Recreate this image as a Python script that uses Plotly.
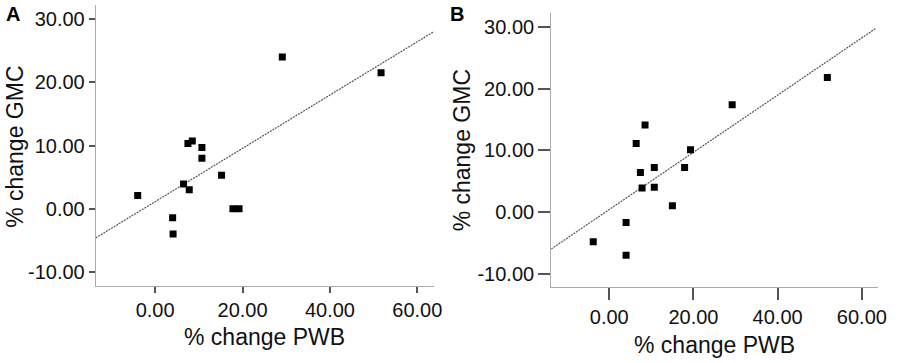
import plotly.graph_objects as go

# Panel A data
pwb_a = [-4.0, 4.0, 4.1, 6.5, 7.8, 7.5, 8.5, 10.7, 10.7, 15.2, 17.8, 19.2, 29.1, 51.7]
gmc_a = [2.1, -1.4, -4.0, 3.9, 3.0, 10.3, 10.7, 9.7, 8.0, 5.3, 0.0, 0.0, 24.0, 21.5]
fit_x_a = [-13.6, 63.8]
fit_y_a = [-4.6, 28.0]

# Panel B data
pwb_b = [-3.8, 4.0, 4.0, 6.4, 7.4, 8.5, 7.8, 10.7, 10.7, 15.0, 17.9, 19.3, 29.2, 51.8]
gmc_b = [-4.8, -1.7, -7.0, 11.1, 6.4, 14.1, 3.9, 7.2, 4.0, 1.0, 7.2, 10.1, 17.4, 21.8]
fit_x_b = [-13.8, 63.4]
fit_y_b = [-6.0, 29.8]

x_ticks = [0, 20, 40, 60]
x_tick_labels = ["0.00", "20.00", "40.00", "60.00"]
y_ticks = [-10, 0, 10, 20, 30]
y_tick_labels = ["-10.00", "0.00", "10.00", "20.00", "30.00"]

FONT = "Liberation Sans, Arial, sans-serif"
W, H = 902, 363

def px(x):
    return x / W

def py(y):
    return 1 - y / H

fig = go.Figure()

for xs, ys, fx, fy, xa, ya in [
    (pwb_a, gmc_a, fit_x_a, fit_y_a, "x", "y"),
    (pwb_b, gmc_b, fit_x_b, fit_y_b, "x2", "y2"),
]:
    fig.add_trace(go.Scatter(x=fx, y=fy, mode="lines", xaxis=xa, yaxis=ya,
                             line=dict(color="#555555", width=1.2, dash="2px,1px"),
                             showlegend=False, hoverinfo="skip"))
    fig.add_trace(go.Scatter(x=xs, y=ys, mode="markers", xaxis=xa, yaxis=ya,
                             marker=dict(symbol="square", size=7, color="#000000"),
                             showlegend=False))

common_x = dict(tickvals=x_ticks, ticktext=x_tick_labels, showline=True, linecolor="#aaaaaa",
                linewidth=1, ticks="outside", tickcolor="#555555", tickwidth=1.5,
                showgrid=False, zeroline=False, tickfont=dict(family=FONT, size=20, color="#111111"))
common_y = dict(tickvals=y_ticks, ticktext=y_tick_labels, showline=True, linecolor="#aaaaaa",
                linewidth=1, ticks="outside", tickcolor="#555555", tickwidth=1.5,
                showgrid=False, zeroline=False, tickfont=dict(family=FONT, size=20, color="#111111"))

fig.update_layout(
    width=W, height=H,
    margin=dict(l=0, r=0, t=0, b=0),
    paper_bgcolor="white", plot_bgcolor="white",
    xaxis=dict(domain=[px(96.7), px(438.3)], range=[-13.6, 63.8], anchor="y", ticklen=6, **common_x),
    yaxis=dict(domain=[py(286), py(5)], range=[-12.2, 32.2], anchor="x", ticklen=6, **common_y),
    xaxis2=dict(domain=[px(556.7), px(886.7)], range=[-13.8, 63.8], anchor="y2", ticklen=12, **common_x),
    yaxis2=dict(domain=[py(286.7), py(13.3)], range=[-12.1, 32.2], anchor="x2", ticklen=12, **common_y),
)

ann_font = dict(family=FONT, size=23, color="#111111")
annotations = [
    dict(text="% change PWB", x=px(267.5), y=py(337), xref="paper", yref="paper",
         showarrow=False, font=ann_font, xanchor="center", yanchor="middle"),
    dict(text="% change GMC", x=px(15), y=py(147), xref="paper", yref="paper",
         showarrow=False, font=ann_font, textangle=-90, xanchor="center", yanchor="middle"),
    dict(text="% change PWB", x=px(722), y=py(345), xref="paper", yref="paper",
         showarrow=False, font=ann_font, xanchor="center", yanchor="middle"),
    dict(text="% change GMC", x=px(467), y=py(150), xref="paper", yref="paper",
         showarrow=False, font=ann_font, textangle=-90, xanchor="center", yanchor="middle"),
    dict(text="<b>A</b>", x=px(13.5), y=py(14), xref="paper", yref="paper",
         showarrow=False, font=dict(family=FONT, size=20, color="#000000"),
         xanchor="center", yanchor="middle"),
    dict(text="<b>B</b>", x=px(461.5), y=py(14), xref="paper", yref="paper",
         showarrow=False, font=dict(family=FONT, size=20, color="#000000"),
         xanchor="center", yanchor="middle"),
]
fig.update_layout(annotations=annotations)

fig.write_html("out.html", config={"displayModeBar": False},
               post_script="document.body.style.margin='0';")
